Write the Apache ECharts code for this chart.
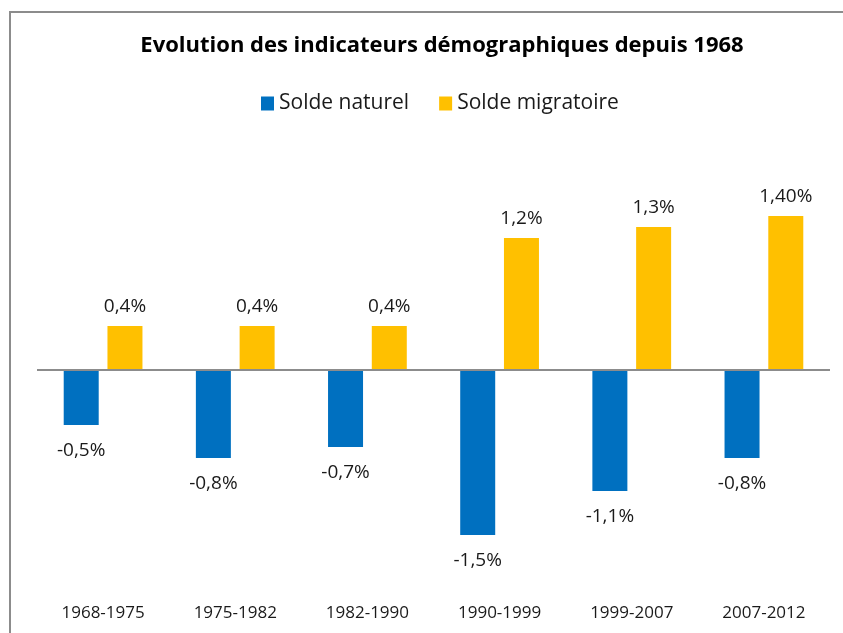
<!DOCTYPE html>
<html>
<head>
<meta charset="utf-8">
<title>Evolution des indicateurs démographiques</title>
<script src="https://cdn.jsdelivr.net/npm/echarts@6/dist/echarts.min.js"></script>
<style>
  html, body { margin: 0; padding: 0; background: #fff; }
  #chart { width: 843px; height: 633px; }
</style>
</head>
<body>
<div id="chart"></div>
<script>
// periods
var periods = ['1968-1975', '1975-1982', '1982-1990', '1990-1999', '1999-2007', '2007-2012']
// values in %
var soldeNaturel = [-0.5, -0.8, -0.7, -1.5, -1.1, -0.8]
var soldeMigratoire = [0.4, 0.4, 0.4, 1.2, 1.3, 1.4]
// labels as printed on the chart
var naturelLabels = ['-0,5%', '-0,8%', '-0,7%', '-1,5%', '-1,1%', '-0,8%']
var migratoireLabels = ['0,4%', '0,4%', '0,4%', '1,2%', '1,3%', '1,40%']

var chart = echarts.init(document.getElementById('chart'))

chart.setOption({
  animation: false,
  backgroundColor: '#fff',
  textStyle: { fontFamily: 'Open Sans' },
  graphic: [{
    type: 'rect',
    shape: { x: 10, y: 12, width: 900, height: 700 },
    style: { fill: 'none', stroke: '#8c8c8c', lineWidth: 2 },
    silent: true
  }],
  title: {
    text: 'Evolution des indicateurs démographiques depuis 1968',
    left: 437,
    top: 30,
    textAlign: 'center',
    textStyle: {
      fontFamily: 'Open Sans',
      fontWeight: 'bold',
      fontSize: 22,
      color: '#000'
    }
  },
  legend: {
    left: 256,
    top: 88,
    itemWidth: 13,
    itemHeight: 14,
    itemGap: 30,
    icon: 'rect',
    textStyle: { fontSize: 21, color: '#1a1a1a', fontFamily: 'Open Sans' },
    data: ['Solde naturel', 'Solde migratoire']
  },
  grid: {
    left: 37,
    right: 13,
    top: 194,
    bottom: 43,
    containLabel: false
  },
  xAxis: {
    type: 'category',
    data: periods,
    axisLine: { show: false, onZero: false },
    axisTick: { show: false },
    axisLabel: {
      margin: 15,
      fontSize: 17,
      color: '#1a1a1a',
      fontFamily: 'Open Sans'
    }
  },
  yAxis: {
    type: 'value',
    min: -2,
    max: 1.6,
    show: false,
    splitLine: { show: false }
  },
  series: [{
    name: 'Solde naturel',
    type: 'bar',
    data: soldeNaturel,
    barWidth: 35,
    barGap: '25%',
    itemStyle: { color: '#0070C0' },
    label: {
      show: true,
      position: 'bottom',
      distance: 16,
      fontSize: 19,
      color: '#1a1a1a',
      formatter: function (p) { return naturelLabels[p.dataIndex] }
    }
  }, {
    name: 'Solde migratoire',
    type: 'bar',
    data: soldeMigratoire,
    barWidth: 35,
    barGap: '25%',
    itemStyle: { color: '#FFC000' },
    label: {
      show: true,
      position: 'top',
      distance: 10,
      fontSize: 19,
      color: '#1a1a1a',
      formatter: function (p) { return migratoireLabels[p.dataIndex] }
    },
    markLine: {
      silent: true,
      symbol: 'none',
      label: { show: false },
      lineStyle: { color: '#8c8c8c', width: 2, type: 'solid' },
      data: [{ yAxis: 0 }]
    }
  }]
})
</script>
</body>
</html>
